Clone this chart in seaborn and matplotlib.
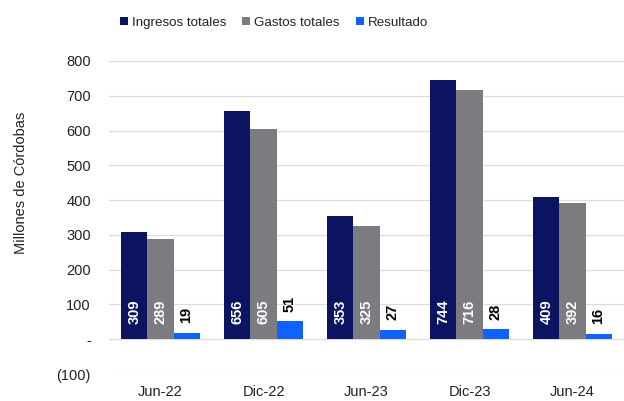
import matplotlib
matplotlib.use("Agg")
import matplotlib.pyplot as plt
import seaborn as sns
import pandas as pd
from matplotlib.patches import Patch

periodos = ["Jun-22", "Dic-22", "Jun-23", "Dic-23", "Jun-24"]
ingresos = [309, 656, 353, 744, 409]
gastos = [289, 605, 325, 716, 392]
resultado = [19, 51, 27, 28, 16]
series = ["Ingresos totales", "Gastos totales", "Resultado"]
colores = ["#0c1462", "#7a7c7f", "#0f62fe"]
yticks = [-100, 0, 100, 200, 300, 400, 500, 600, 700, 800]
ytick_labels = ["(100)", "-", "100", "200", "300", "400", "500", "600", "700", "800"]

sns.set_theme(style="white")
plt.rcParams["font.family"] = ["Liberation Sans", "DejaVu Sans"]

rows = []
for s, vals in zip(series, [ingresos, gastos, resultado]):
    for p, v in zip(periodos, vals):
        rows.append({"Periodo": p, "Serie": s, "Valor": v})
df = pd.DataFrame(rows)

fig = plt.figure(figsize=(6.24, 4.01), dpi=100)
ax = fig.add_axes([0.1747, 0.0673, 0.8253, 0.7807])

sns.barplot(data=df, x="Periodo", y="Valor", hue="Serie", order=periodos,
            hue_order=series, palette=colores, width=0.76, linewidth=0,
            saturation=1, ax=ax, legend=False, errorbar=None)

ax.set_ylim(-100, 800)
ax.set_xlim(-0.5, 4.5)
ax.set_yticks(yticks)
ax.set_yticklabels(ytick_labels)
ax.yaxis.grid(True, color="#dcdcdc", linewidth=0.9)
ax.set_axisbelow(True)
for sp in ax.spines.values():
    sp.set_visible(False)
ax.tick_params(axis="y", length=0, pad=13, labelsize=10.5, labelcolor="#222222")
ax.tick_params(axis="x", length=0, pad=8, labelsize=10.5, labelcolor="#222222")
ax.set_xlabel("")
ax.set_ylabel("Millones de Córdobas", fontsize=10.5, color="#222222")
ax.yaxis.set_label_coords(-0.157, 0.612)

# labels
for ci, cont in enumerate(ax.containers):
    if ci < 2:
        for bar in cont:
            h = bar.get_height()
            ax.annotate(f"{h:.0f}", xy=(bar.get_x() + bar.get_width() / 2, 0),
                        xytext=(0, 11), textcoords="offset points",
                        rotation=90, ha="center", va="bottom",
                        color="white", fontweight="bold", fontsize=10.5)
    else:
        ax.bar_label(cont, labels=[f"{b.get_height():.0f}" for b in cont],
                     padding=7, rotation=90, color="black",
                     fontweight="bold", fontsize=10.5)

handles = [Patch(facecolor=c, edgecolor="none", label=s) for s, c in zip(series, colores)]
leg = fig.legend(handles=handles, loc="center", bbox_to_anchor=(0.439, 0.943),
                 ncol=3, frameon=False, handlelength=0.6, handleheight=0.6,
                 handletextpad=0.3, columnspacing=1.2,
                 prop={"family": ["Liberation Sans Narrow", "Liberation Sans"], "size": 9.6})
for t in leg.get_texts():
    t.set_color("#222222")

fig.savefig("out.png", dpi=100)
